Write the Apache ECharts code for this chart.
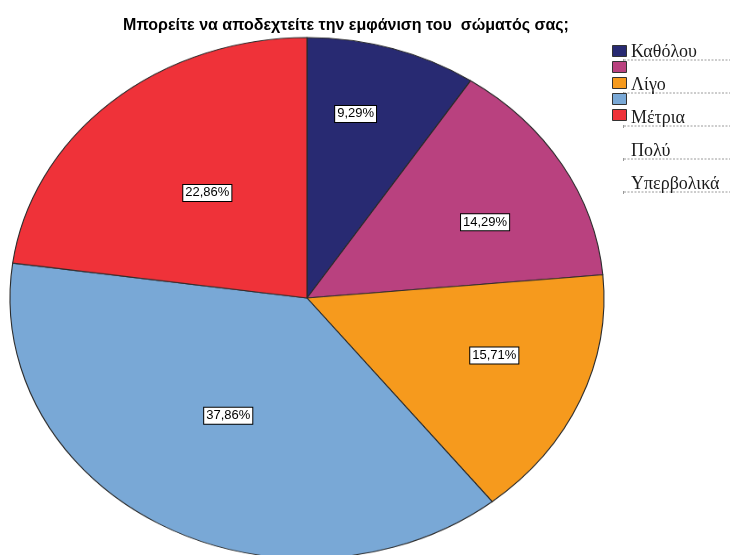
<!DOCTYPE html>
<html>
<head>
<meta charset="utf-8">
<script src="https://cdn.jsdelivr.net/npm/echarts@6/dist/echarts.min.js"></script>
<style>
  html, body { margin: 0; padding: 0; background: #fff; }
  #wrap { position: relative; width: 730px; height: 555px; overflow: hidden; }
  #wrap > div { position: absolute; left: 0; top: 0; width: 730px; }
  #front { height: 555px; }
  /* the pie is drawn as a tilted disc: squeeze it vertically about its centre */
  #pie { height: 660px; transform: scaleY(0.877); transform-origin: 0 298px; }
</style>
</head>
<body>
<div id="wrap">
  <div id="pie"></div>
  <div id="front"></div>
</div>
<script>
// Answer categories and their shares (%)
const categories = ['Καθόλου', 'Λίγο', 'Μέτρια', 'Πολύ', 'Υπερβολικά'];
const shares = [9.29, 14.29, 15.71, 37.86, 22.86];
const sliceColors = ['#282a72', '#b9417f', '#f69a1d', '#79a8d6', '#ef3239'];

// Small shifts of the value boxes away from the default mid-radius spot
const labelNudge = [[5, -39], [48, 2], [48, -2], [-4, -14], [0, 9]];

const pieCenter = [307, 298];
const pieRadius = 297;

// Layer 1: the coloured slices
const pieChart = echarts.init(document.getElementById('pie'), null, { renderer: 'canvas' });
pieChart.setOption({
  animation: false,
  series: [{
    type: 'pie',
    center: pieCenter,
    radius: [0, pieRadius],
    startAngle: 90,
    clockwise: true,
    data: categories.map((name, i) => ({
      name,
      value: shares[i],
      itemStyle: { color: sliceColors[i] }
    })),
    itemStyle: { borderColor: '#2b2b2b', borderWidth: 1.1 },
    label: { show: false },
    labelLine: { show: false },
    emphasis: { disabled: true },
    silent: true
  }]
});

// Dashed rules under the legend texts
const ruleTop = 60, ruleStep = 33;
const rules = [];
categories.forEach((c, i) => {
  const y = ruleTop + i * ruleStep;
  rules.push({
    type: 'line',
    shape: { x1: 624, y1: y, x2: 730, y2: y },
    style: { stroke: '#9a9a9a', lineWidth: 1, lineDash: [2, 1.5] },
    silent: true
  });
  rules.push({
    type: 'line',
    shape: { x1: 623.5, y1: y - 1, x2: 623.5, y2: y + 2 },
    style: { stroke: '#9a9a9a', lineWidth: 1 },
    silent: true
  });
});

// Layer 2: title, legend and the value boxes
const front = echarts.init(document.getElementById('front'), null, { renderer: 'canvas' });
front.setOption({
  animation: false,
  title: {
    text: 'Μπορείτε να αποδεχτείτε την εμφάνιση του  σώματός σας;',
    left: 341,
    textAlign: 'center',
    top: 13,
    textStyle: {
      fontFamily: 'Liberation Sans, Arial, sans-serif',
      fontWeight: 'bold',
      fontSize: 16,
      color: '#000'
    }
  },
  legend: [
    {
      // colour swatches
      data: categories.map((n, i) => ({
        name: n,
        itemStyle: { color: sliceColors[i], borderColor: '#333', borderWidth: 1 }
      })),
      orient: 'vertical',
      left: 607,
      top: 40,
      itemWidth: 14,
      itemHeight: 11,
      itemGap: 4,
      icon: 'rect',
      formatter: () => '',
      selectedMode: false,
      textStyle: { fontSize: 1 }
    },
    {
      // category names
      data: categories.map(n => ({ name: n, icon: 'none' })),
      orient: 'vertical',
      left: 621,
      top: 38,
      itemWidth: 0,
      itemHeight: 18,
      itemGap: 15,
      selectedMode: false,
      textStyle: {
        fontFamily: 'Liberation Serif, Times New Roman, serif',
        fontSize: 18,
        color: '#1a1a1a',
        lineHeight: 18
      }
    }
  ],
  graphic: rules,
  series: [{
    type: 'pie',
    center: pieCenter,
    radius: [0, pieRadius],
    startAngle: 90,
    clockwise: true,
    avoidLabelOverlap: false,
    silent: true,
    data: categories.map((name, i) => ({ name, value: shares[i] })),
    itemStyle: { color: 'rgba(0,0,0,0)', borderWidth: 0 },
    label: {
      show: true,
      position: 'inside',
      formatter: p => p.value.toFixed(2).replace('.', ',') + '%',
      fontFamily: 'Liberation Sans, Arial, sans-serif',
      fontSize: 13,
      color: '#000',
      backgroundColor: '#fff',
      borderColor: '#000',
      borderWidth: 1,
      padding: [2, 2, 1, 2]
    },
    labelLine: { show: false },
    labelLayout: p => ({ dx: labelNudge[p.dataIndex][0], dy: labelNudge[p.dataIndex][1] }),
    emphasis: { disabled: true }
  }]
});
</script>
</body>
</html>
